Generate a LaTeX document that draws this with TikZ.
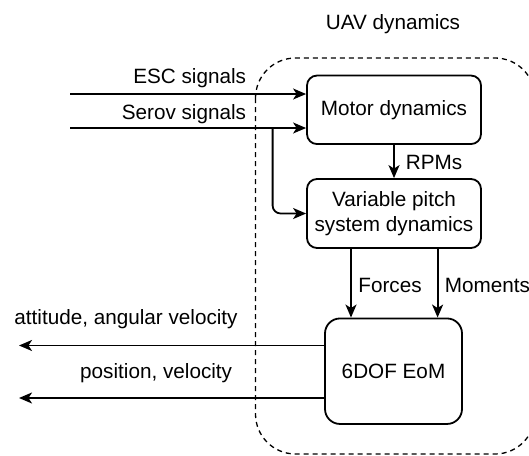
\documentclass[tikz,border=0pt]{standalone}
\usepackage{fontspec}
\setmainfont{Liberation Sans}
\usetikzlibrary{arrows.meta}
\begin{document}
\begin{tikzpicture}[x=1pt,y=-1pt,
  font=\fontsize{20.7}{25}\selectfont,
  line width=1.8pt,
  blk/.style={draw, rounded corners=10pt, line width=1.8pt, align=center, inner sep=0pt},
  arr/.style={-{Stealth[length=13pt,width=11pt,inset=3.5pt]}, line width=1.8pt},
  lbl/.style={inner sep=0pt}]
\useasboundingbox (0,0) rectangle (529,455);
% container
\draw[line width=1.3pt, dash pattern=on 5pt off 4pt, rounded corners=40pt] (255.5,58) rectangle (535,454);
\node[lbl] (title) at (393,24.5) {UAV dynamics};
% blocks
\node[blk, minimum width=174pt, minimum height=68.5pt] (motor) at (394,109.8) {Motor dynamics};
\node[blk, minimum width=174pt, minimum height=69pt] (vp) at (394,213.5) {Variable pitch\\system dynamics};
\node[blk, rounded corners=15pt, minimum width=137pt, minimum height=105.5pt] (eom) at (393.5,371.2) {6DOF EoM};
% inputs
\coordinate (esc) at (70,94);
\coordinate (serov) at (70,128);
\coordinate (br) at (272.6,128);
\draw[arr] (esc) -- (motor.west |- esc);
\draw[arr] (serov) -- (motor.west |- serov);
\draw[arr, rounded corners=8pt] (br) -- (br |- vp.west) -- (vp.west);
\node[lbl, anchor=base east] (esclbl) at (247,83.7) {ESC signals};
\node[lbl, anchor=base east] (serovlbl) at (247,119) {Serov signals};
% internal
\draw[arr] (motor.south) -- (vp.north);
\node[lbl, anchor=base west] (rpm) at (405,169) {RPMs};
\draw[arr] ([xshift=-43pt]vp.south) -- ([xshift=-43pt]vp.south |- eom.north);
\draw[arr] ([xshift=43.6pt]vp.south) -- ([xshift=43.6pt]vp.south |- eom.north);
\node[lbl, anchor=base] (forces) at (390,292.5) {Forces};
\node[lbl, anchor=base west] (moments) at (444,292.5) {Moments};
% outputs
\coordinate (o1) at (19,345.5);
\coordinate (o2) at (19,398);
\draw[arr] (eom.west |- o1) -- (o1);
\draw[arr] (eom.west |- o2) -- (o2);
\node[lbl, anchor=west] (att) at (13.5,319.5) {attitude, angular velocity};
\node[lbl, anchor=east] (pos) at (233,373.6) {position, velocity};
\end{tikzpicture}
\end{document}
